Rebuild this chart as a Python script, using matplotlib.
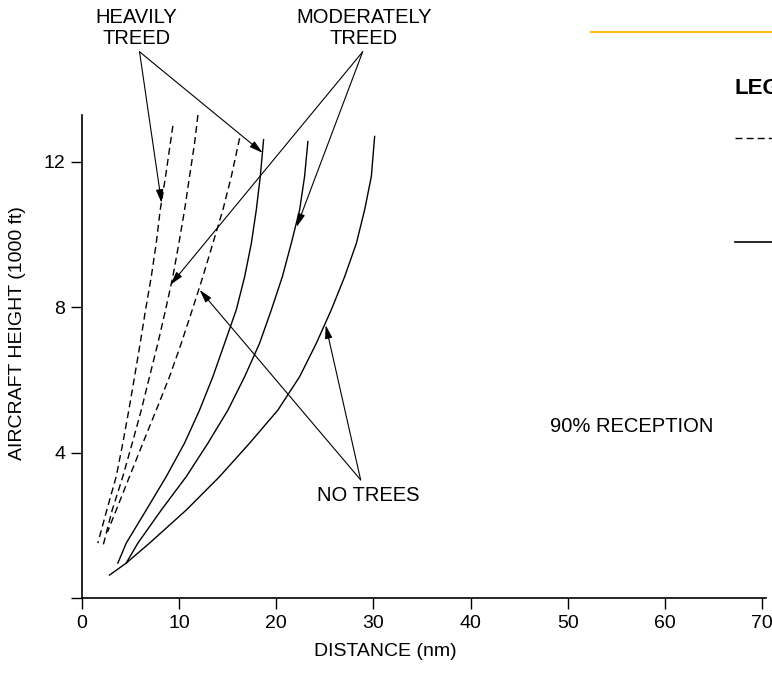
import matplotlib
matplotlib.use('Agg')
import matplotlib.pyplot as plt
from matplotlib.lines import Line2D

plt.rcParams['font.family'] = ['Liberation Sans', 'DejaVu Sans']

# 90% reception curves, distance (nm) vs aircraft height (1000 ft)
heights = [11.60, 10.68, 9.76, 8.84, 7.93, 7.01, 6.09, 5.17, 4.26, 3.34, 2.42]

# dashed curves
dash1_x = [9.35, 8.60, 8.05, 7.64, 7.13, 6.54, 5.99, 5.41, 4.82, 4.20, 3.52, 2.55, 1.63]
dash1_y = [12.99] + heights + [1.51]
dash2_x = [11.93, 11.59, 11.07, 10.56, 9.97, 9.35, 8.60, 7.81, 6.95, 6.10, 5.17, 4.20, 3.11, 2.14]
dash2_y = [13.29, 12.52] + heights + [1.41]
dash3_x = [16.22, 15.37, 14.50, 13.47, 12.44, 11.35, 10.22, 9.01, 7.64, 6.26, 4.89, 3.52, 2.63]
dash3_y = [12.65] + heights + [1.82]

# solid curves
solid1_x = [18.69, 18.35, 17.94, 17.43, 16.74, 15.88, 14.68, 13.47, 12.10, 10.55, 8.67, 6.61, 4.55, 3.69]
solid1_y = [12.61] + heights + [1.51, 0.96]
solid2_x = [23.25, 22.91, 22.40, 21.54, 20.62, 19.49, 18.28, 16.74, 15.02, 12.96, 10.73, 8.16, 5.75, 4.55]
solid2_y = [12.56] + heights + [1.51, 0.96]
solid3_x = [30.12, 29.78, 29.09, 28.24, 27.03, 25.66, 24.12, 22.40, 20.16, 17.25, 14.16, 10.73, 6.95, 4.55, 2.83]
solid3_y = [12.70] + heights + [1.51, 0.96, 0.63]

xticks = [0, 10, 20, 30, 40, 50, 60, 70]
yticks = [0, 4, 8, 12]
ytick_labels = ['', '4', '8', '12']

fig = plt.figure(figsize=(7.72, 6.94), dpi=100)
ax = fig.add_axes([82 / 772, 96 / 694, 684 / 772, 483 / 694])
ax.set_xlim(0, 70.4)
ax.set_ylim(0, 13.29)

dash = (0, (5, 3))
for xs, ys in [(dash1_x, dash1_y), (dash2_x, dash2_y), (dash3_x, dash3_y)]:
    ax.plot(xs, ys, color='black', lw=1.0, linestyle=dash)
for xs, ys in [(solid1_x, solid1_y), (solid2_x, solid2_y), (solid3_x, solid3_y)]:
    ax.plot(xs, ys, color='black', lw=1.0)

for s in ['top', 'right']:
    ax.spines[s].set_visible(False)
for s in ['left', 'bottom']:
    ax.spines[s].set_linewidth(1.2)

ax.set_xticks(xticks)
ax.set_yticks(yticks)
ax.set_yticklabels(ytick_labels)
ax.tick_params(direction='out', length=8, width=1.0, labelsize=14, pad=4)

ax.set_xlabel('DISTANCE (nm)', fontsize=14)
ax.set_ylabel('AIRCRAFT HEIGHT (1000 ft)', fontsize=14)
ax.xaxis.set_label_coords(0.443, -0.093)
ax.yaxis.set_label_coords(-0.082, 0.549)

arrow = dict(arrowstyle='-|>,head_length=0.8,head_width=0.22', color='black',
             lw=0.8, shrinkA=0, shrinkB=0)

def pointer(start, tip):
    ax.annotate('', xy=tip, xytext=start, arrowprops=arrow, annotation_clip=False)

ax.text(5.61, 15.69, 'HEAVILY\nTREED', ha='center', va='center', fontsize=14.5,
        linespacing=1.1, clip_on=False)
pointer((5.92, 15.03), (8.19, 10.87))
pointer((5.92, 15.03), (18.59, 12.25))

ax.text(29.0, 15.69, 'MODERATELY\nTREED', ha='center', va='center', fontsize=14.5,
        linespacing=1.1, clip_on=False)
pointer((28.89, 15.03), (9.11, 8.62))
pointer((28.89, 15.03), (22.09, 10.21))

ax.text(29.5, 2.81, 'NO TREES', ha='center', va='center', fontsize=14.5)
pointer((28.68, 3.25), (12.10, 8.48))
pointer((28.68, 3.25), (25.08, 7.51))

ax.text(56.6, 4.71, '90% RECEPTION', ha='center', va='center', fontsize=14.5)

# legend box, cut off at the right edge as in the source
fig.add_artist(Line2D([591 / 772, 1.0], [1 - 32 / 694] * 2, color='#FFC20E', lw=1.5))
fig.text(735 / 772, 1 - 89 / 694, 'LEGEND', fontsize=16, fontweight='bold',
         ha='left', va='center')
fig.add_artist(Line2D([735 / 772, 1.0], [1 - 138 / 694] * 2, color='black', lw=1.0,
                      linestyle=dash))
fig.add_artist(Line2D([735 / 772, 1.0], [1 - 242 / 694] * 2, color='black', lw=1.2))

fig.savefig('out.png', dpi=100)
